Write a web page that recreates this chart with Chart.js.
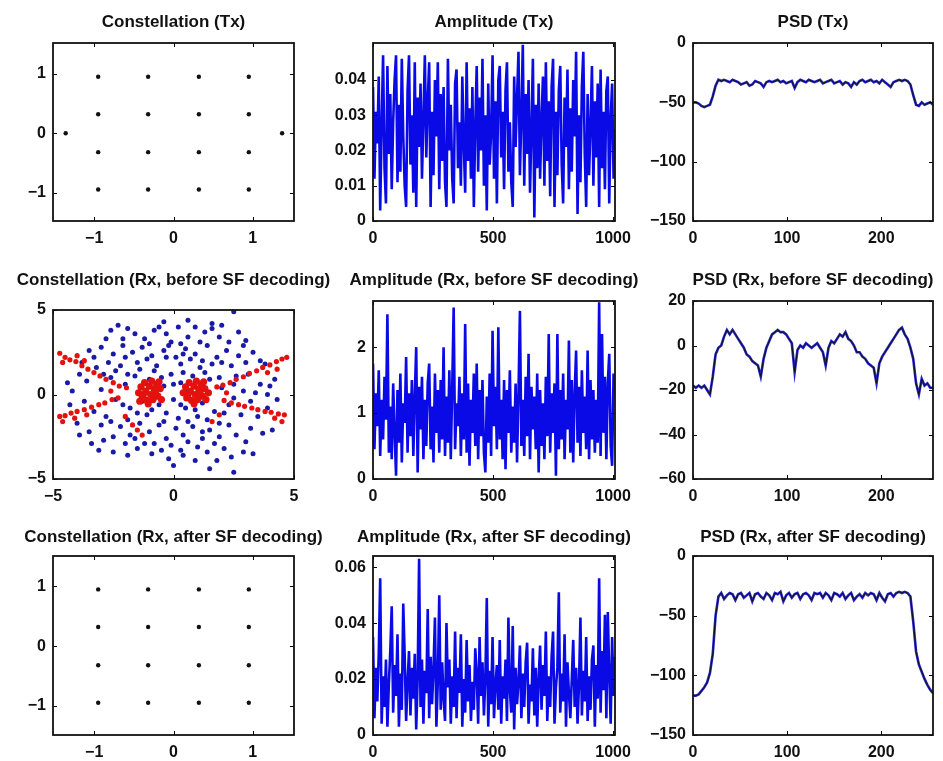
<!DOCTYPE html>
<html><head><meta charset="utf-8">
<script src="https://cdn.jsdelivr.net/npm/chart.js@4/dist/chart.umd.min.js"></script>
<style>
html,body{margin:0;padding:0;background:#fff;}
#wrap{position:relative;width:943px;height:761px;overflow:hidden;background:#fff;}
#wrap canvas{position:absolute;left:0;top:0;}
</style></head><body><div id="wrap"></div>
<script>
// ---------- DATA ----------
// 16-QAM constellation (Tx and Rx after SF decoding)
const qamI = [-0.95,-0.32,0.32,0.95,-0.95,-0.32,0.32,0.95,-0.95,-0.32,0.32,0.95,-0.95,-0.32,0.32,0.95];
const qamQ = [0.95,0.95,0.95,0.95,0.32,0.32,0.32,0.32,-0.32,-0.32,-0.32,-0.32,-0.95,-0.95,-0.95,-0.95];
const pilotI = [-1.36, 1.37];
const pilotQ = [0, 0];

// Rx before SF decoding: blue received symbols
const blueI = [-2.6,-2.3,-1.9,-1.6,-2.8,-0.6,-0.3,0.2,0.9,1.3,1.6,2.0,2.5,2.7,1.9,-1.2,0.6,-0.1,
 -3.5,-3.0,-2.5,-2.1,-1.7,-1.3,-0.9,-0.4,0.1,0.5,0.9,1.4,1.8,2.2,2.7,3.3,3.8,-3.8,-3.2,-2.7,-2.2,-1.5,-0.7,0.3,1.1,1.6,2.4,3.0,-0.2,0.7,
 -4.2,-3.6,-3.0,-2.6,-2.4,-2.0,-1.8,-1.6,-1.3,-1.0,-0.6,-0.4,-0.1,0.0,0.3,0.5,0.8,1.2,1.5,1.7,2.0,2.3,2.6,2.9,3.2,3.6,3.9,4.2,-3.3,-2.8,-1.1,0.2,1.0,2.8,-0.8,0.6,
 -4.0,-3.5,-3.0,-2.5,-2.2,-1.8,-1.4,-1.0,-0.6,-0.3,0.1,0.4,0.8,1.2,1.5,1.9,2.3,2.6,3.2,3.7,-0.8,0.6,1.7,-2.0,
 -3.1,-2.5,-0.9,-0.2,0.4,0.9,1.4,1.8,2.4,2.5,-1.5,0.0,
 -2.9,-2.4,-1.9,-1.4,-0.5,0.0,0.4,1.3,1.9,2.5,3.1,3.4,-3.7,-2.1,-1.5,-0.9,-0.3,0.3,0.9,1.4,2.1,2.5,3.5,-2.6,-1.9,-0.4,0.6,1.9,
 -1.2,-0.1,1.0,2.1,-2.9,-3.4,3.0,2.9,-0.5,0.3,1.2,-1.6,-3.9,-3.3,-2.0,-1.1,-0.3,0.4,1.2,2.0,2.9,3.6,-1.0,0.3,1.1,2.3,-2.1,-0.8,
 1.6,-0.4,0.6,3.0,4.0,4.3,-4.3,-4.4,3.9,-3.9,4.1,-1.9,1.5,3.3];
const blueQ = [3.8,4.1,3.9,3.6,3.3,4.0,3.6,4.0,4.0,3.7,3.9,4.1,4.9,3.7,3.4,3.3,3.4,3.1,
 2.6,2.8,2.4,2.9,2.5,2.8,2.3,2.6,2.2,2.7,2.4,2.9,2.2,2.6,2.3,2.5,1.8,1.9,1.6,1.9,1.7,1.9,1.7,1.8,1.6,1.8,1.7,1.9,2.9,2.1,
 0.2,0.8,0.3,1.0,-0.3,0.6,-0.8,1.1,-0.4,0.9,-0.6,0.5,1.2,-0.3,0.7,-0.8,1.1,-0.5,0.9,-1.0,0.4,-0.6,1.1,0.2,-0.4,0.6,0.0,0.9,-1.0,-1.3,-1.2,-1.4,-1.3,-1.2,1.4,0.2,
 -1.7,-2.2,-1.8,-2.5,-1.9,-2.4,-1.7,-2.2,-1.8,-2.6,-2.0,-2.4,-1.9,-2.6,-2.1,-2.5,-1.8,-2.4,-2.0,-2.3,-2.9,-2.8,-2.9,-2.9,
 -3.3,-3.4,-3.5,-3.8,-3.6,-3.9,-3.4,-3.9,-3.7,-4.6,-3.2,-4.2,
 1.2,1.4,1.2,1.5,1.0,0.6,1.3,1.3,1.0,0.6,1.2,0.1,-0.4,-0.6,-1.1,-0.9,-1.1,-0.6,-0.9,-1.5,-1.1,-0.2,-1.3,-1.6,-1.5,-1.6,-1.6,-1.7,
 -2.9,-3.0,-3.1,-3.2,-2.7,-2.9,-2.8,-3.4,-3.3,-3.3,-2.2,-2.6,1.2,2.2,2.2,2.1,2.2,2.4,2.0,1.9,2.9,2.0,3.0,3.0,3.1,3.1,3.3,3.8,
 4.2,4.3,4.4,3.2,0.5,-0.3,-0.6,0.7,-0.8,-2.4,-2.1,-3.6,-4.4,-3.5];
// Rx before SF decoding: red symbols, scattered arms and two dense clusters
const redArmI = [-4.72,-4.5,-4.3,-4.05,-3.8,-3.55,-3.3,-3.05,-2.8,-2.5,-2.25,-1.95,-4.6,-4.0,-3.7,
 -4.72,-4.5,-4.25,-4.0,-3.7,-3.4,-3.1,-2.85,-2.55,-2.3,-4.6,-4.1,-3.6,
 -1.5,-1.3,-1.7,-2.0,-2.6,
 4.7,4.5,4.27,4.0,3.7,3.45,3.15,2.9,2.6,2.35,2.05,1.8,4.3,3.9,
 4.6,4.35,4.05,3.8,3.5,3.25,2.95,2.7,2.4,2.1,4.5,4.2,
 1.6,1.9,2.2];
const redArmQ = [2.44,2.2,2.05,1.95,1.7,1.5,1.3,1.1,0.9,0.7,0.5,0.4,1.9,2.3,2.0,
 -1.3,-1.25,-1.1,-1.0,-0.9,-0.75,-0.6,-0.5,-0.3,-0.2,-1.6,-1.4,-1.2,
 -2.1,-2.4,-1.8,-1.3,0.2,
 2.2,2.1,1.95,1.75,1.6,1.4,1.25,1.05,0.9,0.7,0.55,0.45,1.5,1.3,
 -1.2,-1.15,-1.05,-1.0,-0.9,-0.8,-0.7,-0.6,-0.5,-0.35,-1.6,-1.4,
 -1.6,-1.2,0.1];
const redBlobI = [-1.45,-1.35,-1.3,-1.2,-1.15,-1.1,-1.0,-0.95,-0.9,-0.85,-0.8,-0.7,-0.65,-0.55,-0.5,-1.25,-0.75,-1.05,-0.6,-1.4,
 0.4,0.5,0.55,0.65,0.7,0.75,0.85,0.9,0.95,1.0,1.05,1.15,1.2,1.3,1.35,0.6,1.1,0.85,1.25,1.45];
const redBlobQ = [0.1,0.45,-0.2,0.7,0.2,-0.35,0.5,0.0,0.8,-0.3,0.3,0.6,-0.1,0.35,-0.3,0.0,0.05,-0.55,0.75,-0.4,
 0.1,0.45,-0.2,0.7,0.2,-0.35,0.5,0.0,0.8,-0.3,0.3,0.6,-0.1,0.35,-0.3,0.0,0.05,-0.55,0.75,0.1];

// Amplitude traces: sample index and values
const ampIdx = [0,6,12,18,24,30,36,42,48,54,60,66,72,78,84,90,96,102,108,114,120,126,132,138,144,150,156,162,168,174,180,186,192,198,204,210,216,222,228,234,240,246,252,258,264,270,276,282,288,294,300,306,312,318,324,330,336,342,348,354,360,366,372,378,384,390,396,402,408,414,420,426,432,438,444,450,456,462,468,474,480,486,492,498,504,510,516,522,528,534,540,546,552,558,564,570,576,582,588,594,600,606,612,618,624,630,636,642,648,654,660,666,672,678,684,690,696,702,708,714,720,726,732,738,744,750,756,762,768,774,780,786,792,798,804,810,816,822,828,834,840,846,852,858,864,870,876,882,888,894,900,906,912,918,924,930,936,942,948,954,960,966,972,978,984,990,996,1002,1008];
const ampTx = [0.038,0.012,0.031,0.022,0.041,0.003,0.027,0.047,0.015,0.005,0.044,0.019,0.036,
 0.009,0.028,0.040,0.047,0.011,0.033,0.014,0.046,0.024,0.010,0.004,0.037,0.047,
 0.016,0.030,0.008,0.045,0.004,0.035,0.021,0.039,0.012,0.029,0.047,0.018,0.034,
 0.045,0.004,0.031,0.013,0.040,0.024,0.045,0.009,0.036,0.017,0.038,0.011,0.004,
 0.046,0.020,0.033,0.012,0.005,0.039,0.043,0.015,0.028,0.010,0.041,0.022,0.008,
 0.045,0.017,0.032,0.012,0.038,0.004,0.027,0.044,0.014,0.035,0.020,0.046,0.010,
 0.030,0.003,0.039,0.016,0.025,0.047,0.012,0.034,0.005,0.040,0.044,0.018,0.031,
 0.009,0.037,0.045,0.014,0.028,0.011,0.004,0.041,0.021,0.035,0.048,0.013,0.030,
 0.050,0.010,0.036,0.019,0.040,0.008,0.026,0.046,0.001,0.033,0.015,0.039,0.012,
 0.029,0.041,0.010,0.045,0.017,0.034,0.007,0.038,0.046,0.004,0.031,0.013,0.037,
 0.044,0.016,0.005,0.035,0.021,0.043,0.009,0.032,0.014,0.040,0.024,0.048,0.002,
 0.030,0.011,0.038,0.048,0.019,0.004,0.036,0.013,0.027,0.044,0.010,0.034,0.018,
 0.039,0.004,0.043,0.015,0.031,0.009,0.037,0.041,0.005,0.029,0.039,0.012,0.026];
const ampRxBefore = [1.75,0.45,1.30,0.80,1.65,0.35,1.20,0.60,1.55,0.90,2.50,0.40,1.10,
 0.30,1.45,0.70,0.05,1.35,0.55,1.60,0.25,1.15,0.85,1.85,0.40,1.30,
 0.65,1.50,0.35,1.25,2.00,0.10,1.40,0.75,1.55,0.30,1.20,0.50,1.45,
 1.75,0.45,1.10,0.25,1.60,0.70,1.35,0.40,1.50,0.60,2.00,0.35,1.25,
 0.55,1.65,0.30,1.40,2.60,0.45,1.15,0.80,1.55,0.35,1.30,0.60,2.35,
 0.40,1.45,0.20,1.20,0.70,1.60,0.50,1.75,0.30,1.35,0.65,1.50,0.40,
 0.10,1.25,0.55,1.60,0.35,2.25,0.80,1.40,0.45,2.30,0.60,1.20,0.30,
 1.50,0.15,1.35,0.70,1.65,0.40,1.10,0.55,1.45,0.25,1.30,2.55,0.50,
 1.20,0.35,1.55,0.65,1.90,0.30,1.40,0.75,1.25,0.45,1.60,0.10,1.35,
 0.50,1.15,0.30,1.55,0.65,2.20,0.40,1.30,0.70,1.45,0.05,2.20,0.45,
 1.35,0.60,1.60,0.30,1.20,0.75,2.10,0.40,1.50,0.25,1.30,1.95,0.55,
 1.40,0.35,1.65,0.70,1.25,0.45,1.95,0.30,1.50,0.60,1.35,0.40,1.20,
 0.55,2.68,0.35,2.20,0.70,1.55,0.30,1.45,1.90,0.50,0.20,1.60,1.30];
const ampRxAfter = [0.035,0.006,0.024,0.012,0.029,0.056,0.004,0.021,0.010,0.027,0.003,0.018,0.030,
 0.046,0.008,0.025,0.014,0.036,0.003,0.022,0.009,0.047,0.028,0.005,0.019,0.030,
 0.007,0.024,0.013,0.029,0.002,0.020,0.063,0.010,0.027,0.004,0.023,0.015,0.045,
 0.006,0.028,0.011,0.024,0.042,0.003,0.019,0.050,0.009,0.026,0.013,0.005,0.040,
 0.017,0.027,0.004,0.021,0.010,0.037,0.006,0.024,0.015,0.036,0.003,0.020,0.008,
 0.034,0.012,0.025,0.005,0.019,0.009,0.031,0.022,0.004,0.035,0.014,0.026,0.007,
 0.020,0.049,0.003,0.023,0.011,0.035,0.006,0.018,0.025,0.009,0.034,0.004,0.021,
 0.013,0.027,0.005,0.042,0.016,0.008,0.039,0.002,0.024,0.011,0.019,0.032,0.006,
 0.022,0.010,0.026,0.033,0.004,0.018,0.012,0.031,0.007,0.024,0.003,0.020,0.032,
 0.009,0.025,0.014,0.037,0.005,0.021,0.010,0.028,0.037,0.004,0.017,0.024,0.051,
 0.008,0.022,0.012,0.036,0.003,0.026,0.015,0.006,0.020,0.034,0.010,0.024,0.004,
 0.018,0.042,0.007,0.023,0.012,0.035,0.005,0.021,0.009,0.027,0.032,0.003,0.025,
 0.013,0.056,0.008,0.030,0.016,0.043,0.006,0.044,0.022,0.004,0.035,0.014,0.028];

// PSD traces (dB) per frequency bin
const psdBin = [0,3,6,9,12,15,18,21,24,27,30,33,36,39,42,45,48,51,54,57,60,63,66,69,72,75,78,81,84,87,90,93,96,99,102,105,108,111,114,117,120,123,126,129,132,135,138,141,144,147,150,153,156,159,162,165,168,171,174,177,180,183,186,189,192,195,198,201,204,207,210,213,216,219,222,225,228,231,234,237,240,243,246,249,252,255];
const psdTx = [-50,-50,-51,-53,-54,-53,-52,-45,-36,-31,
 -32,-31,-32,-33,-31,-32,-33,-35,-34,-33,
 -36,-35,-32,-33,-34,-37,-33,-32,-33,-32,
 -31,-33,-32,-34,-33,-32,-38,-33,-31,-32,
 -33,-31,-32,-33,-32,-31,-34,-33,-32,-31,
 -34,-33,-32,-35,-33,-34,-37,-33,-35,-32,
 -31,-33,-32,-31,-33,-32,-34,-31,-33,-35,
 -37,-33,-32,-31,-32,-31,-32,-35,-44,-52,
 -53,-50,-52,-51,-50,-52];
const psdRxBefore = [-18,-19,-18,-19,-18,-20,-22,-14,-4,-1,
 0,4,7,5,7,5,3,1,-1,-4,
 -5,-7,-8,-9,-14,-6,-1,2,5,6,
 7,6,6,5,3,1,-12,-2,0,-1,
 1,0,-1,0,1,-1,-3,-9,-1,2,
 1,3,5,4,6,3,2,0,-3,-3,
 -5,-6,-8,-9,-10,-17,-8,-5,-3,-1,
 1,3,5,7,8,5,3,-1,-6,-17,
 -22,-15,-18,-17,-19,-19];
const psdRxAfter = [-117,-117,-116,-113,-110,-106,-98,-82,-50,-34,
 -31,-36,-33,-31,-32,-37,-32,-31,-35,-33,
 -31,-38,-32,-31,-34,-36,-31,-33,-37,-31,
 -32,-30,-38,-33,-31,-35,-32,-31,-36,-32,
 -31,-33,-37,-31,-32,-31,-35,-31,-33,-37,
 -31,-32,-34,-31,-36,-33,-31,-37,-34,-32,
 -35,-31,-33,-31,-32,-37,-31,-35,-38,-32,
 -31,-34,-31,-30,-31,-30,-31,-34,-55,-80,
 -91,-97,-103,-108,-112,-115];

// Tick values
const constTicks = [-1, 0, 1];
const rxBeforeTicks = [-5, 0, 5];
const ampTicksX = [0, 500, 1000];
const ampTxTicksY = [0, 0.01, 0.02, 0.03, 0.04];
const ampRxBeforeTicksY = [0, 1, 2];
const ampRxAfterTicksY = [0, 0.02, 0.04, 0.06];
const psdTicksX = [0, 100, 200];
const psdTicksY150 = [-150, -100, -50, 0];
const psdRxBeforeTicksY = [-60, -40, -20, 0, 20];

// ---------- DRAWING ----------
const FAMILY = '"Liberation Sans", Arial, Helvetica, sans-serif';
const W = 943, H = 761, YW = 50, XH = 26;
const wrap = document.getElementById('wrap');

function pts(xs, ys){ return xs.map((x,i)=>({x:x, y:ys[i]})); }
function fmt(v){ return (v < 0 ? '\u2212' : '') + String(Math.abs(v)); }

const frameTitle = {
  id: 'frameTitle',
  afterDraw(chart, args, opts){
    const a = chart.chartArea, ctx = chart.ctx;
    const xs = chart.scales.x, ys = chart.scales.y;
    ctx.save();
    ctx.strokeStyle = '#000'; ctx.lineWidth = 1;
    ctx.beginPath();
    xs.ticks.forEach(t => { const p = Math.round(xs.getPixelForValue(t.value)) + 0.5;
      ctx.moveTo(p, a.bottom); ctx.lineTo(p, a.bottom - 4); ctx.moveTo(p, a.top); ctx.lineTo(p, a.top + 4); });
    ys.ticks.forEach(t => { const p = Math.round(ys.getPixelForValue(t.value)) + 0.5;
      ctx.moveTo(a.left, p); ctx.lineTo(a.left + 4, p); ctx.moveTo(a.right, p); ctx.lineTo(a.right - 4, p); });
    ctx.stroke();
    ctx.lineWidth = 1.8; ctx.strokeStyle = '#111';
    ctx.strokeRect(a.left, a.top, a.right - a.left, a.bottom - a.top);
    ctx.fillStyle = '#111'; ctx.font = 'bold 17px ' + FAMILY;
    ctx.textAlign = 'center'; ctx.textBaseline = 'middle';
    ctx.fillText(opts.text, (a.left + a.right) / 2, opts.y);
    ctx.restore();
  }
};

function axis(range, ticks, isX){
  return {
    type: 'linear', position: isX ? 'bottom' : 'left', min: range[0], max: range[1],
    grid: { display: false, drawTicks: false, tickLength: 0 }, border: { display: false },
    ticks: { color: '#111', font: { family: FAMILY, size: 16, weight: 'bold' }, padding: isX ? 8 : 7,
      autoSkip: false, maxRotation: 0, callback: v => fmt(v) },
    afterBuildTicks: s => { s.ticks = ticks.map(v => ({ value: v })); },
    afterFit: s => { if (isX) s.height = XH; else s.width = YW;
      s.paddingLeft = 0; s.paddingRight = 0; s.paddingTop = 0; s.paddingBottom = 0; }
  };
}

function makeChart(box, type, datasets, xr, yr, xt, yt, title, titleY){
  const cv = document.createElement('canvas');
  cv.width = W; cv.height = H; cv.style.width = W + 'px'; cv.style.height = H + 'px';
  wrap.appendChild(cv);
  new Chart(cv, {
    type: type,
    data: { datasets: datasets },
    options: {
      responsive: false, animation: false, events: [], devicePixelRatio: 1,
      layout: { autoPadding: false, padding: { left: box.l - YW, top: box.t, right: W - box.r, bottom: Math.max(0, H - box.b - XH) } },
      scales: { x: axis(xr, xt, true), y: axis(yr, yt, false) },
      plugins: { legend: { display: false }, tooltip: { enabled: false }, frameTitle: { text: title, y: titleY } }
    },
    plugins: [frameTitle]
  });
}

function dots(xs, ys, color, r){
  return { data: pts(xs, ys), backgroundColor: color, borderWidth: 0, pointRadius: r, pointStyle: 'circle' };
}
function trace(xs, ys, color, w){
  return { data: pts(xs, ys), borderColor: color, borderWidth: w, pointRadius: 0, tension: 0, fill: false };
}

const C1 = {l: 53, r: 294}, C2 = {l: 373, r: 615}, C3 = {l: 693, r: 933};

// Row 1
makeChart({...C1, t: 43, b: 221}, 'scatter',
  [dots(qamI, qamQ, '#111', 2.2), dots(pilotI, pilotQ, '#111', 2.2)],
  [-1.52, 1.52], [-1.48, 1.52], constTicks, constTicks, 'Constellation (Tx)', 22);
makeChart({...C2, t: 43, b: 221}, 'line',
  [trace(ampIdx, ampTx, '#0a0ae6', 2.6)],
  [0, 1008], [0, 0.0505], ampTicksX, ampTxTicksY, 'Amplitude (Tx)', 22);
makeChart({...C3, t: 43, b: 221}, 'line',
  [trace(psdBin, psdTx, '#111', 1), trace(psdBin, psdTx, '#2525c8', 2.6)],
  [0, 255], [-150, 0], psdTicksX, psdTicksY150, 'PSD (Tx)', 22);

// Row 2
makeChart({...C1, t: 310, b: 479}, 'scatter',
  [dots(redBlobI, redBlobQ, '#e3120f', 3.6), dots(redArmI, redArmQ, '#e3120f', 2.6), dots(blueI, blueQ, '#1a1aa8', 2.5)],
  [-5, 5], [-5, 5], rxBeforeTicks, rxBeforeTicks, 'Constellation (Rx, before SF decoding)', 280);
makeChart({...C2, t: 301, b: 479}, 'line',
  [trace(ampIdx, ampRxBefore, '#0a0ae6', 2.6)],
  [0, 1008], [0, 2.7], ampTicksX, ampRxBeforeTicksY, 'Amplitude (Rx, before SF decoding)', 280);
makeChart({...C3, t: 301, b: 479}, 'line',
  [trace(psdBin, psdRxBefore, '#111', 1), trace(psdBin, psdRxBefore, '#2525c8', 2.6)],
  [0, 255], [-60, 20], psdTicksX, psdRxBeforeTicksY, 'PSD (Rx, before SF decoding)', 280);

// Row 3
makeChart({...C1, t: 556, b: 735}, 'scatter',
  [dots(qamI, qamQ, '#111', 2.2)],
  [-1.52, 1.52], [-1.49, 1.51], constTicks, constTicks, 'Constellation (Rx, after SF decoding)', 537);
makeChart({...C2, t: 556, b: 735}, 'line',
  [trace(ampIdx, ampRxAfter, '#0a0ae6', 2.6)],
  [0, 1008], [0, 0.064], ampTicksX, ampRxAfterTicksY, 'Amplitude (Rx, after SF decoding)', 537);
makeChart({...C3, t: 556, b: 735}, 'line',
  [trace(psdBin, psdRxAfter, '#111', 1), trace(psdBin, psdRxAfter, '#2525c8', 2.6)],
  [0, 255], [-150, 0], psdTicksX, psdTicksY150, 'PSD (Rx, after SF decoding)', 537);
</script>
</body></html>
